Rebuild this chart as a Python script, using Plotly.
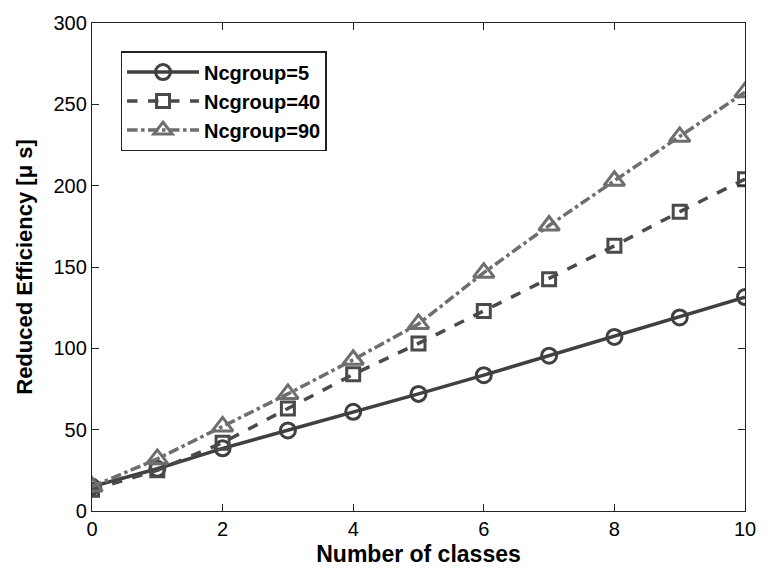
import plotly.graph_objects as go

x_classes = [0, 1, 2, 3, 4, 5, 6, 7, 8, 9, 10]
eff_n5 = [15, 26, 38.5, 49.5, 61, 72, 83.5, 95.5, 107, 119, 131.5]
eff_n40 = [13, 25, 42, 63, 84, 103, 123, 142.5, 163, 184, 204]
eff_n90 = [15, 32, 52, 72, 93, 115, 146.5, 175.5, 203, 230, 257.5]
names = ["Ncgroup=5", "Ncgroup=40", "Ncgroup=90"]

FONT = "Liberation Sans, Arial, Helvetica"

fig = go.Figure()
styles = [
    (eff_n5, "#404040", "solid", "circle-open", 15),
    (eff_n40, "#4a4a4a", "dash", "square-open", 13),
    (eff_n90, "#6e6e6e", "dashdot", "triangle-up-open", 18),
]
for (ys, col, dash, sym, msz), nm in zip(styles, names):
    fig.add_trace(go.Scatter(
        x=x_classes, y=ys, name="<b>" + nm + "</b>", mode="lines+markers",
        line=dict(color=col, width=3.5, dash=dash),
        marker=dict(symbol=sym, size=msz, color=col, line=dict(width=3, color=col)),
    ))

axis_common = dict(
    showline=True, linecolor="#222222", linewidth=1.3, mirror="ticks",
    ticks="inside", ticklen=7, tickcolor="#222222", showgrid=False, zeroline=False,
    tickfont=dict(family=FONT, size=20, color="black"),
)
fig.update_layout(
    width=768, height=574,
    margin=dict(l=92, r=14, t=17, b=59),
    paper_bgcolor="white", plot_bgcolor="white",
    xaxis=dict(range=[0, 10], tickvals=[0, 2, 4, 6, 8, 10],
               title=dict(text="<b>Number of classes</b>", standoff=6,
                          font=dict(family=FONT, size=23, color="black")),
               **axis_common),
    yaxis=dict(range=[0, 300], tickvals=[0, 50, 100, 150, 200, 250, 300],
               title=dict(text="<b>Reduced Efficiency [μ s]</b>", standoff=14,
                          font=dict(family=FONT, size=22, color="black")),
               **axis_common),
    legend=dict(x=0.044, y=0.942, xanchor="left", yanchor="top",
                bordercolor="#222222", borderwidth=1.3, bgcolor="white",
                font=dict(family=FONT, size=20, color="black"),
                itemwidth=72, tracegroupgap=0),
    showlegend=True,
)
fig.write_html("out.html", config={"displayModeBar": False},
               post_script="document.body.style.margin='0';")
